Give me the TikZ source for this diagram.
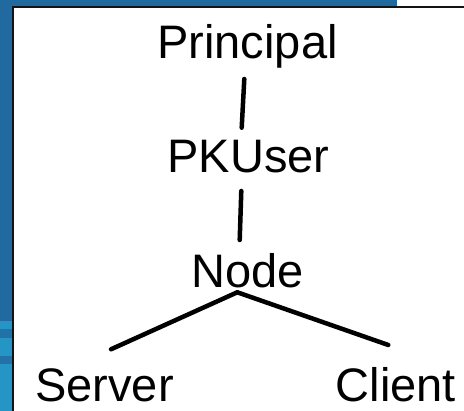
\documentclass[tikz,border=0pt]{standalone}
\usepackage{fontspec}
\setmainfont{Liberation Sans}
\usepackage{xcolor}
\usepackage{tikz}
\usetikzlibrary{positioning,calc}
\definecolor{slide-blue}{RGB}{33,106,160}
\definecolor{slide-mid}{RGB}{34,114,168}
\definecolor{slide-light}{RGB}{37,149,197}
\definecolor{frame-black}{RGB}{20,20,20}

\tikzset{
  term/.style={inner sep=0pt, anchor=base, font=\fontsize{47}{56}\selectfont},
  link/.style={line width=4.5pt, line cap=round, black}
}

\begin{document}
\begin{tikzpicture}[x=1pt, y=1pt]
  \useasboundingbox (0,0) rectangle (464,411);

  % Slide background
  \fill[white] (0,0) rectangle (464,411);
  \fill[slide-blue] (0,404) rectangle (397,411);
  \fill[slide-blue] (0,0) rectangle (13,411);
  \fill[slide-light] (0,0) rectangle (13,90);
  \fill[slide-mid] (0,47) rectangle (13,55);
  \fill[slide-mid] (0,73) rectangle (13,82);

  % Frame
  \begin{scope}
    \clip (0,0) rectangle (464,411);
    \draw[fill=white, draw=frame-black, line width=2pt] (13.3,-5) rectangle (470,403.7);
  \end{scope}

  % Classes
  \node[term] (principal) at (247.5,352.7) {Principal};
  \node[term] (pkuser) at (248.5,238) {PKUser};
  \node[term] (nd) at (247.5,123) {Node};
  \node[term] (server) at (104.5,9) {Server};
  \node[term] (client) at (396,9) {Client};

  % Inheritance
  \coordinate (fork) at ($(nd.base)+(-10.2,-4.3)$);
  \draw[link] ($(principal.base)+(-3.2,-20.7)$) -- ($(pkuser.base)+(-6.8,45.3)$);
  \draw[link] ($(pkuser.base)+(-7.2,-18)$) -- ($(nd.base)+(-7.8,48)$);
  \draw[link] (fork) -- ($(server.base)+(6.5,52.7)$);
  \draw[link] (fork) -- ($(client.base)+(-7.7,57)$);
\end{tikzpicture}
\end{document}
